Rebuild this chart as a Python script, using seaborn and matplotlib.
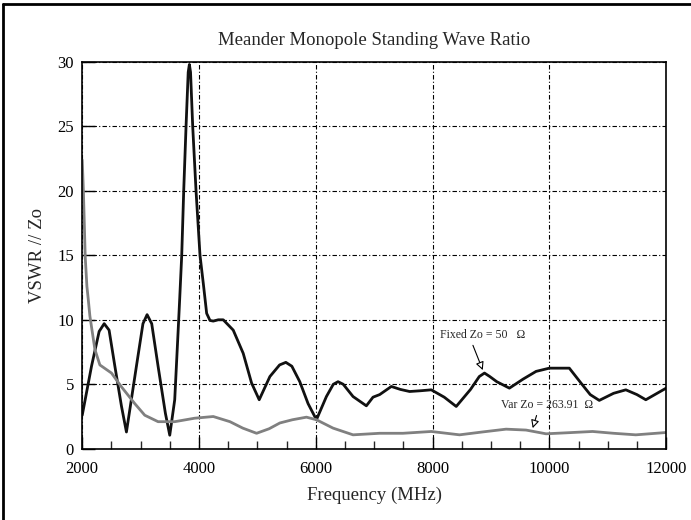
import numpy as np
import pandas as pd
import seaborn as sns
import matplotlib.pyplot as plt
from matplotlib.ticker import MultipleLocator

# values
fixed_freq = [2000, 2159, 2290, 2376, 2460, 2559, 2672, 2757, 2928, 3040, 3111, 3190,
              3299, 3424, 3499, 3584, 3641, 3669, 3704, 3738, 3778, 3815, 3835, 3855,
              3892, 3949, 4017, 4074, 4131, 4188, 4244, 4330, 4415, 4586, 4757, 4900,
              5031, 5214, 5380, 5487, 5590, 5726, 5868, 6011, 6182, 6300, 6381, 6470,
              6638, 6866, 6980, 7094, 7294, 7450, 7607, 7800, 7978, 8200, 8405, 8650,
              8800, 8889, 8980, 9100, 9316, 9550, 9773, 10000, 10342, 10541, 10700,
              10855, 11100, 11310, 11500, 11652, 12000]
fixed_vswr = [2.6, 6.4, 9.1, 9.7, 9.2, 6.4, 3.3, 1.3, 6.4, 9.7, 10.4, 9.7,
              6.4, 2.76, 1.05, 3.8, 9.0, 11.6, 15.0, 20.0, 25.0, 29.2, 29.8, 29.2,
              25.0, 20.0, 15.0, 12.8, 10.5, 9.95, 9.9, 10.0, 10.0, 9.2, 7.4, 5.1,
              3.8, 5.6, 6.5, 6.7, 6.4, 5.2, 3.5, 2.25, 4.05, 5.0, 5.2, 5.0,
              4.05, 3.33, 4.0, 4.2, 4.83, 4.6, 4.44, 4.5, 4.57, 4.0, 3.28, 4.6,
              5.6, 5.87, 5.6, 5.2, 4.7, 5.4, 6.0, 6.25, 6.25, 5.1, 4.2,
              3.75, 4.3, 4.57, 4.2, 3.8, 4.7]

var_freq = [2000, 2020, 2051, 2080, 2103, 2131, 2217, 2302, 2501, 2672, 2900, 3071,
            3299, 3585, 3926, 4244, 4530, 4750, 4986, 5200, 5385, 5600, 5840, 6011,
            6296, 6638, 7094, 7492, 7978, 8462, 8850, 9259, 9601, 9943, 10350,
            10740, 11100, 11481, 12000]
var_vswr = [22.4, 20.0, 14.9, 12.6, 11.6, 10.3, 7.7, 6.5, 5.87, 4.8, 3.5, 2.6,
            2.1, 2.1, 2.37, 2.5, 2.1, 1.6, 1.2, 1.55, 2.0, 2.25, 2.45, 2.25,
            1.6, 1.08, 1.2, 1.2, 1.34, 1.08, 1.3, 1.52, 1.45, 1.16, 1.25,
            1.34, 1.2, 1.08, 1.26]

x_ticks = [2000, 4000, 6000, 8000, 10000, 12000]
y_ticks = [0, 5, 10, 15, 20, 25, 30]

df = pd.concat([
    pd.DataFrame({'freq': fixed_freq, 'vswr': fixed_vswr, 'series': 'Fixed'}),
    pd.DataFrame({'freq': var_freq, 'vswr': var_vswr, 'series': 'Var'}),
])

sns.set_style('white')
plt.rcParams['font.family'] = ['Liberation Serif', 'DejaVu Serif']

fig = plt.figure(figsize=(6.91, 5.20), dpi=100)
ax = fig.add_axes([0.119, 0.137, 0.845, 0.744])

sns.lineplot(data=df, x='freq', y='vswr', hue='series',
             palette={'Fixed': '#111111', 'Var': '#808080'},
             linewidth=2.0, legend=False, ax=ax, sort=False)

ax.set_xlim(2000, 12000)
ax.set_ylim(0, 30)
ax.set_xticks(x_ticks)
ax.set_yticks(y_ticks)
ax.xaxis.set_minor_locator(MultipleLocator(500))
ax.tick_params(axis='both', which='major', direction='in', length=9, width=1,
               labelsize=12, colors='black', left=True, bottom=True)
ax.tick_params(axis='x', which='major', pad=9)
ax.tick_params(axis='y', which='major', pad=6)
ax.tick_params(axis='x', which='minor', direction='in', length=6, width=1,
               bottom=True)
ax.grid(True, which='major', color='black', linestyle=(0, (4, 2, 1, 2)),
        linewidth=0.8)
for s in ax.spines.values():
    s.set_color('black')
    s.set_linewidth(1.2)

ax.set_title('Meander Monopole Standing Wave Ratio', fontsize=13.5, pad=12)
ax.set_xlabel('Frequency (MHz)', fontsize=13.5, labelpad=7)
ax.set_ylabel('VSWR // Zo', fontsize=13.5, labelpad=8)

ax.annotate('Fixed Zo = 50   \u03a9', xy=(8860, 6.1), xytext=(8120, 8.84),
            fontsize=8.5, va='center', ha='left',
            arrowprops=dict(arrowstyle='-|>', fc='white', ec='black',
                            lw=0.8, shrinkA=1, shrinkB=0, mutation_scale=12,
                            relpos=(0.37, 0.0)))
ax.annotate('Var Zo = 263.91  \u03a9', xy=(9715, 1.6), xytext=(9174, 3.4),
            fontsize=8.5, va='center', ha='left',
            arrowprops=dict(arrowstyle='-|>', fc='white', ec='black',
                            lw=0.8, shrinkA=1, shrinkB=0, mutation_scale=12,
                            relpos=(0.4, 0.0)))

# outer frame lines (left and top edges of the picture)
fig.add_artist(plt.Line2D([0.005, 0.005], [0.0, 0.993], color='black', lw=2,
                          transform=fig.transFigure))
fig.add_artist(plt.Line2D([0.005, 1.0], [0.993, 0.993], color='black', lw=2,
                          transform=fig.transFigure))

fig.savefig('out.png', dpi=100, facecolor='white')
